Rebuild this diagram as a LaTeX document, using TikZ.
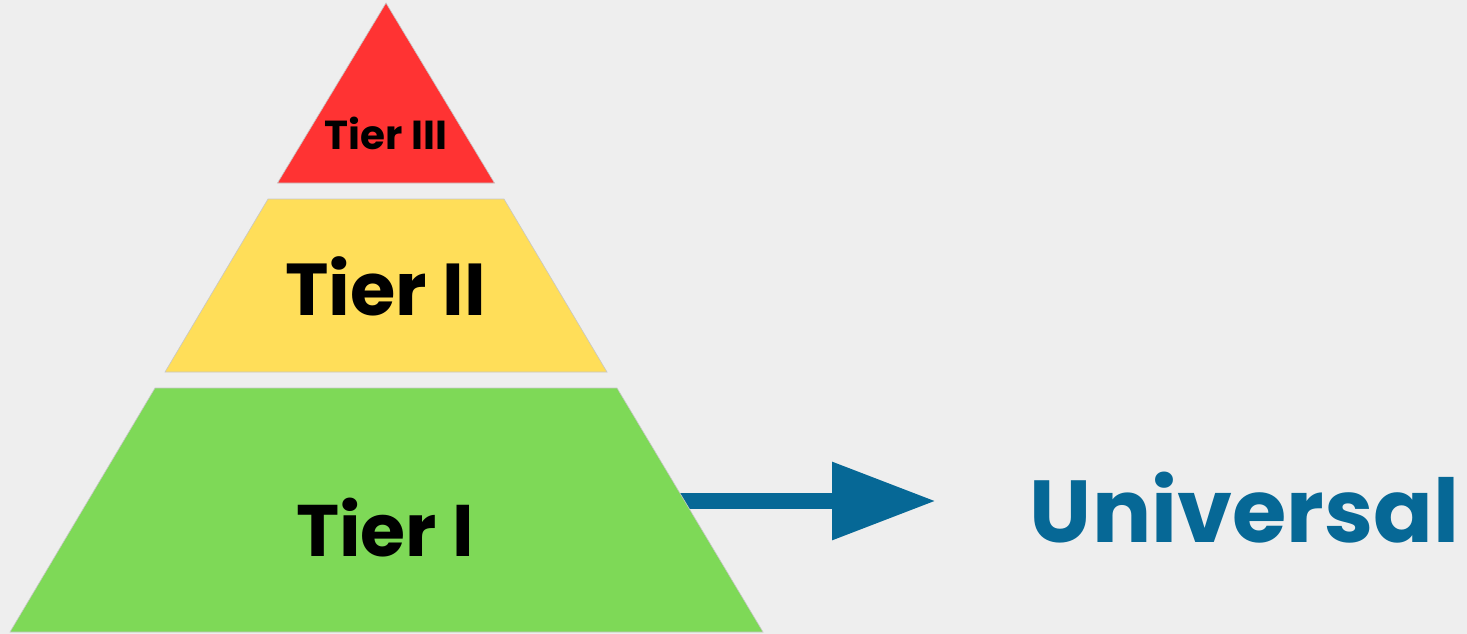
\documentclass[tikz,border=0pt]{standalone}
\usepackage{fontspec}
\setmainfont{Poppins}
\usetikzlibrary{arrows.meta}
\definecolor{bg}{HTML}{EEEEEE}
\definecolor{tred}{HTML}{FF3333}
\definecolor{tyellow}{HTML}{FFDE59}
\definecolor{tgreen}{HTML}{7ED957}
\definecolor{tblue}{HTML}{066896}
\tikzset{
  tier/.style={draw=black!22, line width=0.6pt},
  tierlabel/.style={anchor=base, inner sep=0pt, font=\bfseries, text=black},
  bigarrow/.style={draw=tblue, line width=16pt, -{Triangle[length=104pt,width=74pt]}},
}
\begin{document}
\begin{tikzpicture}[x=1pt,y=-1pt]
\fill[bg] (0,0) rectangle (1467,634);
\useasboundingbox (0,0) rectangle (1467,634);
% arrow (behind the pyramid)
\coordinate (arrstart) at (660,501);
\coordinate (arrtip) at (936,501);
\draw[bigarrow] (arrstart) -- (arrtip);
% pyramid tiers
\filldraw[tier, fill=tred] (386,3) -- (494.5,183) -- (277.5,183) -- cycle;
\filldraw[tier, fill=tyellow] (268,199) -- (504,199) -- (607,372) -- (165,372) -- cycle;
\filldraw[tier, fill=tgreen] (155,388) -- (617,388) -- (763,632) -- (10,632) -- cycle;
% labels
\node[tierlabel, font=\fontsize{40.5}{40.5}\selectfont\bfseries] (t3) at (386,149) {Tier III};
\node[tierlabel, font=\fontsize{73.5}{73.5}\selectfont\bfseries] (t2) at (385.5,315.7) {Tier II};
\node[tierlabel, font=\fontsize{73}{73}\selectfont\bfseries] (t1) at (385,556.7) {Tier I};
\node[anchor=base, inner sep=0pt, text=tblue, font=\fontsize{88}{88}\selectfont\bfseries] (univ) at (1244.5,542) {Universal};
\end{tikzpicture}
\end{document}
